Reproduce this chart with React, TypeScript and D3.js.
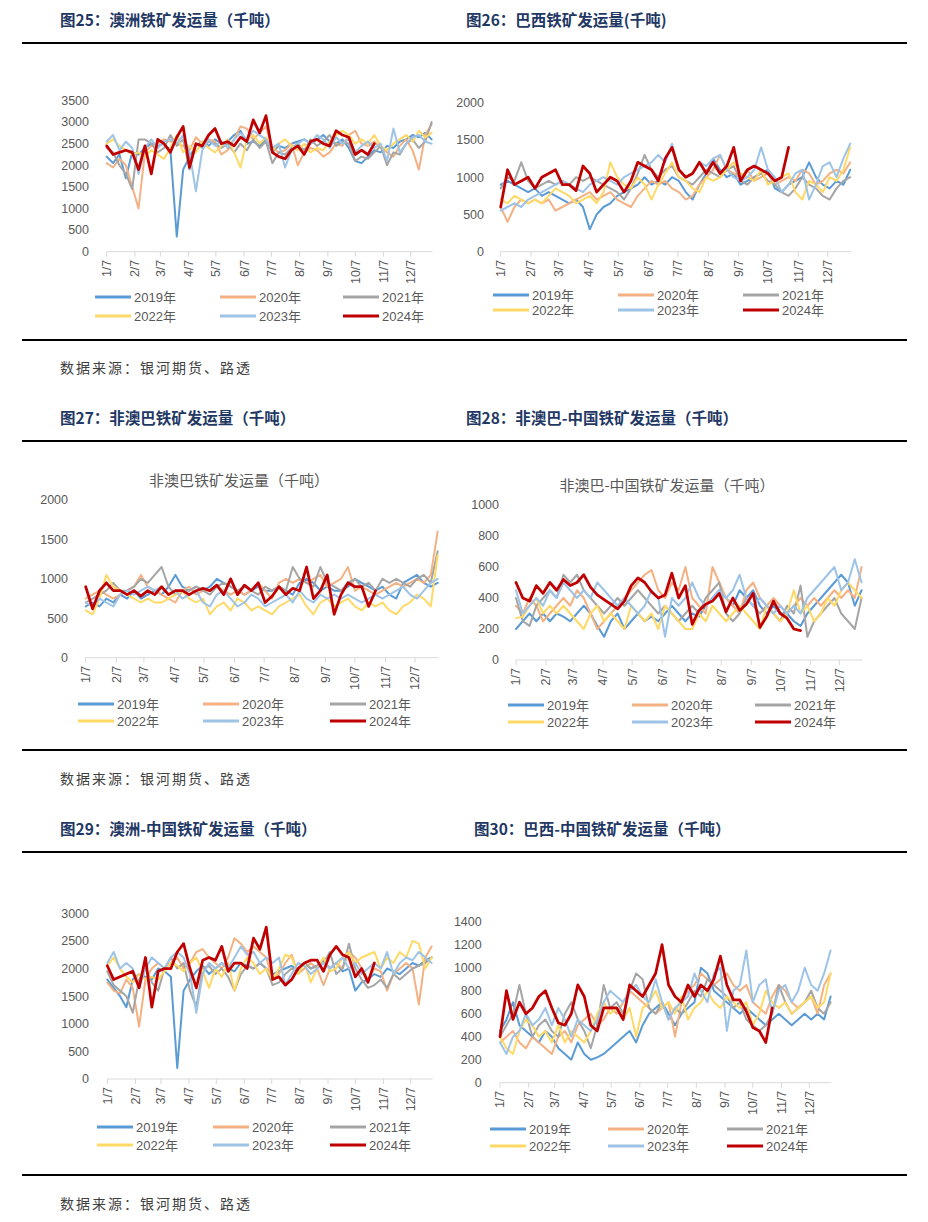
import React from 'react';
import * as d3 from 'd3';

const YEARS = ['2019年', '2020年', '2021年', '2022年', '2023年', '2024年'];
const COLORS = ['#5B9BD5', '#F4B183', '#A5A5A5', '#FFD966', '#9DC3E6', '#C00000'];
const MONTH_LABELS = ['1/7', '2/7', '3/7', '4/7', '5/7', '6/7', '7/7', '8/7', '9/7', '10/7', '11/7', '12/7'];

// 图25 澳洲铁矿发运量 (weekly points from 1/7)
const AU_2019 = [2200,2050,2250,1700,2300,2250,2400,2500,2450,2500,2350,350,1900,2200,2450,2550,2450,2600,2500,2550,2700,2800,2500,2550,2450,2600,2300,2450,2400,2500,2550,2600,2500,2600,2700,2550,2500,2600,2400,2100,2050,2200,2350,2300,2450,2400,2550,2600,2700,2650,2750,2600];
const AU_2020 = [2050,1950,2150,2000,1500,1000,2300,2450,2500,2600,2550,2500,2450,2350,2650,2500,2600,2550,2250,2350,2600,2900,2850,2600,2750,2900,2400,2300,2350,2500,2000,2300,2400,2350,2200,2300,2500,2450,2700,2800,2500,2450,2550,2400,2300,2200,2450,2600,2350,1900,2700,2950];
const AU_2021 = [2400,2300,2000,1800,1450,2600,2600,2500,2300,2400,2700,2450,2600,1900,2500,2400,2550,2500,2400,2500,2300,2500,2350,2600,2400,2550,2050,2300,2250,2400,2500,2350,2600,2450,2550,2700,2450,2550,2500,2100,2200,2150,2300,2450,2000,2300,2250,2500,2600,2400,2550,3000];
const AU_2022 = [2500,2600,2450,2350,2250,2300,2200,2350,2250,2150,2400,2700,2300,2450,2300,2550,2400,2300,2450,2600,2300,1950,2600,2700,2500,2650,2350,2500,2600,2450,2350,2500,2300,2400,2350,2550,2700,2800,2700,2500,2600,2500,2700,2450,2350,2500,2600,2700,2550,2800,2650,2750];
const AU_2023 = [2550,2700,2350,2550,2400,1800,2400,2600,2400,2550,2600,2500,2700,2300,1400,2350,2600,2450,2550,2400,2600,2750,2600,2800,2700,2600,2400,2500,1950,2350,2500,2600,2500,2700,2600,2400,2650,2500,2600,2300,2450,2550,2400,2500,2100,2850,2300,2500,2650,2700,2550,2500];
const AU_2024 = [2450,2250,2300,2350,2300,1900,2450,1800,2600,2500,2300,2650,2900,1950,2500,2450,2700,2850,2500,2550,2450,2650,2550,3050,2750,3150,2300,2200,2150,2350,2450,2250,2550,2600,2500,2450,2800,2700,2650,2250,2350,2250,2500];

// 图26 巴西铁矿发运量
const BR_2019 = [900,950,900,850,800,850,750,800,750,700,650,700,600,300,500,600,650,750,800,850,900,1000,900,950,900,1000,950,800,700,900,1050,1250,1100,1000,1050,900,950,1000,1050,1100,850,800,900,950,1000,1200,1000,900,850,950,900,1100];
const BR_2020 = [600,400,600,700,650,700,650,700,550,600,650,700,750,800,700,750,800,700,650,600,750,850,950,900,950,850,800,700,750,900,1000,1100,1300,1100,1050,1000,1100,950,1000,1050,900,950,1000,950,1100,1050,900,950,1050,1100,1050,1200];
const BR_2021 = [850,1000,950,1200,950,850,900,950,900,950,900,1000,950,1000,950,900,850,800,700,850,1050,1300,1100,1000,1100,1150,1000,950,900,1000,1100,1050,1000,1100,1150,950,900,1000,1050,950,900,800,750,850,1000,900,850,750,700,850,950,1000];
const BR_2022 = [700,650,750,700,650,700,650,750,850,800,750,650,700,750,650,800,1200,1000,900,850,1000,900,700,900,1050,1200,1000,950,850,800,1000,950,1000,1100,1200,1050,1000,950,1100,900,950,1000,1050,800,700,950,900,800,1000,950,1100,1400];
const BR_2023 = [550,600,650,600,700,750,800,850,900,950,900,850,800,900,950,1000,950,900,1000,1050,1100,1150,1200,1300,1200,1450,1100,1000,1050,1200,1150,1250,1300,1100,1000,950,1000,1100,1400,1100,1000,800,900,1050,1100,700,900,1150,1200,1000,1250,1450];
const BR_2024 = [600,1100,900,950,1000,850,1000,1050,1100,900,900,820,1150,1050,800,900,1000,950,800,950,1200,1150,1100,950,1250,1400,1100,1000,1050,1200,1050,1200,1050,1150,1400,950,1100,1150,1100,1050,950,1000,1400];

// 图27 非澳巴铁矿发运量
const NAB_2019 = [650,700,650,750,700,800,750,850,750,800,850,800,900,1050,900,850,900,850,900,1000,950,900,850,800,850,900,850,850,900,850,800,950,1000,950,850,900,850,850,900,1000,950,900,850,900,800,750,950,1000,1050,950,900,950];
const NAB_2020 = [750,800,850,800,750,800,850,900,1050,900,850,800,750,700,850,900,800,850,850,900,850,800,850,800,850,950,850,750,950,1000,950,1000,950,1000,1050,900,950,1000,1150,850,900,850,800,850,900,950,900,950,1000,950,1050,1600];
const NAB_2021 = [700,750,800,850,950,850,850,900,1000,950,1050,1150,900,800,850,850,900,850,800,900,950,900,850,900,850,800,900,850,900,850,1150,1000,950,900,1150,950,900,850,950,1000,900,950,850,1000,950,1000,950,900,1000,1050,950,1350];
const NAB_2022 = [600,550,750,1050,900,850,800,750,700,750,700,700,750,800,850,750,700,750,550,650,700,600,750,700,600,650,600,550,650,700,750,800,650,550,700,750,650,700,750,650,600,700,650,700,600,550,650,700,800,750,650,1300];
const NAB_2023 = [700,650,750,700,650,800,850,800,850,900,850,900,800,850,750,800,850,700,650,800,850,750,650,700,800,750,650,700,750,800,700,850,750,700,800,750,800,750,800,750,700,750,800,750,800,850,900,800,750,850,950,1000];
const NAB_2024 = [900,620,850,950,850,850,800,850,780,850,800,900,800,850,850,800,850,880,850,920,800,1000,800,920,850,950,700,780,900,800,880,850,1150,750,850,1050,550,800,950,900,900,650,850];

// 图28 非澳巴-中国铁矿发运量
const NABC_2019 = [200,250,300,250,300,250,300,280,250,300,350,300,220,150,250,300,200,250,300,250,280,250,300,350,300,250,300,280,350,400,450,400,350,450,400,450,350,300,350,300,300,250,220,300,350,400,450,500,550,500,350,450];
const NABC_2020 = [350,300,400,350,250,300,350,400,350,450,400,300,200,250,300,350,400,450,500,550,580,450,400,500,450,600,400,350,300,600,500,400,350,300,450,500,400,350,400,350,300,350,400,350,400,350,400,450,400,450,400,600];
const NABC_2021 = [400,250,220,350,400,450,400,550,500,550,450,400,350,300,350,400,350,400,450,400,350,300,350,300,250,300,350,300,400,450,500,300,250,300,400,350,300,350,300,250,350,300,480,150,250,300,350,400,300,250,200,400];
const NABC_2022 = [270,280,350,400,300,350,300,350,300,250,200,300,350,250,300,250,200,350,300,250,300,200,350,300,250,200,200,300,250,350,300,250,300,350,300,250,200,350,300,250,300,450,300,350,250,300,400,350,450,500,450,400];
const NABC_2023 = [450,300,350,400,350,450,400,500,450,400,450,400,500,450,400,350,400,350,300,350,450,400,150,400,350,400,500,400,350,400,450,400,450,550,400,350,400,350,300,350,300,350,300,400,450,500,550,600,450,500,650,500];
const NABC_2024 = [500,400,380,480,430,500,450,520,480,500,550,470,420,390,360,330,380,480,530,500,440,400,420,560,400,480,230,320,360,380,430,310,400,320,360,430,210,280,380,300,270,200,190];

// 图29 澳洲-中国铁矿发运量
const AUC_2019 = [1800,1650,1500,1300,1800,1900,1850,1800,2000,1950,1850,200,1600,1800,1950,2050,1900,2000,2100,2000,1950,2100,2050,2000,2100,2000,1900,1950,2000,2050,1950,2100,2000,2050,2150,2000,2100,1950,2000,1600,1750,1800,1900,1850,2000,1950,1900,2000,2100,2050,2150,2200];
const AUC_2020 = [1750,1600,1550,1800,1650,950,1800,2000,2100,2000,2100,2200,2000,2100,2300,2350,2200,2100,2000,2200,2550,2450,2300,2400,2300,2200,1800,1900,2100,2250,1900,2000,2100,2000,1700,2000,2100,2000,2300,2200,2000,1800,2000,1950,1600,1900,2000,2100,2000,1350,2200,2400];
const AUC_2021 = [1950,1700,1600,1500,1200,1800,2000,1750,1600,2000,2200,2000,2100,1600,1300,2000,2050,1900,2000,1850,1600,1900,2050,2000,2100,2000,1700,1750,1900,2000,1950,2100,2000,2050,2100,2300,1900,2000,2450,2000,1800,1650,1700,1800,1650,1900,1800,1900,2000,2050,2100,2200];
const AUC_2022 = [2050,2200,2000,1850,1750,1900,1800,1850,1800,1950,2100,2050,1950,2100,2200,1950,1650,2000,1850,2100,1600,2000,2200,2100,1900,2000,1800,2000,2250,2200,1900,2100,1750,2000,2200,1950,2000,2200,2300,2100,2200,2250,2300,2000,2200,2100,2300,2200,2500,2450,2000,2200];
const AUC_2023 = [2100,2300,2000,2100,2000,1650,2000,2200,2100,2000,2200,2300,2200,1900,1200,1900,2100,2000,2100,2000,2200,2400,2250,2300,2100,2200,2100,2200,1700,1900,2100,2050,1900,2000,2100,2000,2100,2200,2000,2100,1900,2000,2100,2000,2300,1900,2100,2200,2150,2300,2200,2100];
const AUC_2024 = [2050,1800,1850,1900,1950,1650,2200,1300,1950,2000,2000,2300,2450,2000,1650,2150,2200,2150,2400,1950,2100,2100,2000,2550,2350,2750,1800,1850,1700,1800,2000,2100,2150,2150,1950,2250,2400,2250,2200,1850,2000,1750,2100];

// 图30 巴西-中国铁矿发运量
const BRC_2019 = [450,550,700,500,450,400,350,450,400,300,250,200,350,250,200,220,250,300,350,400,450,350,500,600,650,700,600,500,600,650,700,1000,950,800,750,700,650,600,650,600,550,500,550,600,550,500,550,600,550,600,550,750];
const BRC_2020 = [350,400,450,350,300,400,350,300,250,400,450,350,500,550,600,500,550,650,600,700,800,750,700,650,600,650,700,400,700,800,850,950,900,850,900,950,850,800,850,700,650,600,750,850,800,700,650,700,750,600,850,950];
const BRC_2021 = [400,500,600,850,600,400,500,550,450,400,600,700,550,450,300,500,850,650,700,600,800,950,900,650,600,700,550,650,600,700,800,750,900,850,800,750,650,700,550,500,450,500,600,850,700,600,650,700,800,650,600,700];
const BRC_2022 = [400,300,250,450,550,500,400,450,350,500,350,450,400,350,450,600,700,600,650,550,650,400,650,700,800,650,700,600,750,550,650,700,800,700,650,750,700,650,700,500,600,800,700,650,700,600,650,700,750,650,700,950];
const BRC_2023 = [350,250,400,450,600,500,550,650,500,650,550,400,550,500,450,550,700,800,750,700,800,850,750,700,900,700,550,650,700,750,950,800,700,950,1000,450,800,850,1150,700,850,900,600,800,850,700,800,1000,850,800,950,1150];
const BRC_2024 = [400,800,550,700,600,650,750,800,650,520,500,600,850,750,500,450,650,650,650,550,850,800,750,850,950,1200,850,750,700,850,750,850,800,900,1100,850,720,720,620,480,450,350,650];

const BASE = new Date(2021, 0, 7);
const DEC7 = new Date(2021, 11, 7);
const END = new Date(2021, 11, 31);
const NUM_FONT = "'Liberation Sans', 'Noto Sans CJK SC', sans-serif";
const CJK_FONT = "'Noto Sans CJK SC', sans-serif";

type Spec = {
  series: number[][];
  yMax: number;
  yStep: number;
  x0: number;
  xDec: number;
  yZero: number;
  yTop: number;
  labelRight: number;
  legendX: number[];
  legendY: number[];
  title?: string;
  titleX?: number;
  titleY?: number;
};

function Panel({ s }: { s: Spec }) {
  const x = d3.scaleTime().domain([BASE, DEC7]).range([s.x0, s.xDec]);
  const y = d3.scaleLinear().domain([0, s.yMax]).range([s.yZero, s.yTop]);
  const xEnd = x(END);
  const line = d3
    .line<number>()
    .x((_, i) => x(d3.timeDay.offset(BASE, 7 * i)))
    .y((d) => y(d));
  const yTicks = d3.range(0, s.yMax + 1, s.yStep);
  const months = d3.range(12).map((m) => new Date(2021, m, 7));
  return (
    <g>
      {s.title && (
        <text x={s.titleX} y={s.titleY} textAnchor="middle" fontSize={15} fill="#595959" fontFamily={CJK_FONT}>
          {s.title}
        </text>
      )}
      {yTicks.map((t) => (
        <text key={t} x={s.labelRight} y={y(t)} dy="0.35em" textAnchor="end" fontSize={12.5} fill="#595959" fontFamily={NUM_FONT}>
          {t}
        </text>
      ))}
      <line x1={s.x0} x2={xEnd} y1={s.yZero} y2={s.yZero} stroke="#D9D9D9" strokeWidth={1} />
      {months.map((d, i) => (
        <g key={i}>
          <line x1={x(d)} x2={x(d)} y1={s.yZero} y2={s.yZero + 5} stroke="#D9D9D9" />
          <text
            transform={`translate(${x(d)},${s.yZero + 8}) rotate(-90)`}
            textAnchor="end"
            dy="0.35em"
            fontSize={12.5}
            fill="#595959"
            fontFamily={NUM_FONT}
          >
            {MONTH_LABELS[i]}
          </text>
        </g>
      ))}
      {s.series.map((arr, k) => (
        <path
          key={k}
          d={line(arr) || ''}
          fill="none"
          stroke={COLORS[k]}
          strokeWidth={k === 5 ? 2.75 : 2}
          strokeLinejoin="round"
          strokeLinecap="round"
        />
      ))}
      {YEARS.map((label, k) => {
        const lx = s.legendX[k % 3];
        const ly = s.legendY[Math.floor(k / 3)];
        return (
          <g key={label}>
            <line x1={lx} x2={lx + 36} y1={ly} y2={ly} stroke={COLORS[k]} strokeWidth={3} />
            <text x={lx + 39} y={ly} dy="0.36em" fontSize={13} fill="#595959" fontFamily={NUM_FONT}>
              {label}
            </text>
          </g>
        );
      })}
    </g>
  );
}

const PANELS: Spec[] = [
  {
    series: [AU_2019, AU_2020, AU_2021, AU_2022, AU_2023, AU_2024],
    yMax: 3500, yStep: 500, x0: 106.7, xDec: 410.7, yZero: 251.7, yTop: 100.5, labelRight: 89,
    legendX: [95, 220, 343], legendY: [297, 316],
  },
  {
    series: [BR_2019, BR_2020, BR_2021, BR_2022, BR_2023, BR_2024],
    yMax: 2000, yStep: 500, x0: 500.7, xDec: 827.7, yZero: 251.7, yTop: 102.7, labelRight: 484,
    legendX: [493, 618, 743], legendY: [295, 310],
  },
  {
    series: [NAB_2019, NAB_2020, NAB_2021, NAB_2022, NAB_2023, NAB_2024],
    yMax: 2000, yStep: 500, x0: 85.7, xDec: 415, yZero: 657.7, yTop: 500, labelRight: 68,
    legendX: [78, 203, 330], legendY: [704, 721],
    title: '非澳巴铁矿发运量（千吨）', titleX: 239, titleY: 486,
  },
  {
    series: [NABC_2019, NABC_2020, NABC_2021, NABC_2022, NABC_2023, NABC_2024],
    yMax: 1000, yStep: 200, x0: 516, xDec: 839.3, yZero: 660, yTop: 505, labelRight: 499,
    legendX: [508, 632, 755], legendY: [705, 722],
    title: '非澳巴-中国铁矿发运量（千吨）', titleX: 667, titleY: 491,
  },
  {
    series: [AUC_2019, AUC_2020, AUC_2021, AUC_2022, AUC_2023, AUC_2024],
    yMax: 3000, yStep: 500, x0: 107.3, xDec: 410.7, yZero: 1079, yTop: 913.3, labelRight: 89,
    legendX: [97, 213, 330], legendY: [1127, 1145],
  },
  {
    series: [BRC_2019, BRC_2020, BRC_2021, BRC_2022, BRC_2023, BRC_2024],
    yMax: 1400, yStep: 200, x0: 500, xDec: 809.3, yZero: 1082.7, yTop: 921.7, labelRight: 481.7,
    legendX: [490, 608, 727], legendY: [1129, 1146],
  },
];

const HEADERS = [
  { text: '图25：澳洲铁矿发运量（千吨）', x: 60, y: 26 },
  { text: '图26：巴西铁矿发运量(千吨)', x: 466, y: 26 },
  { text: '图27：非澳巴铁矿发运量（千吨）', x: 60, y: 424 },
  { text: '图28：非澳巴-中国铁矿发运量（千吨）', x: 466, y: 424 },
  { text: '图29：澳洲-中国铁矿发运量（千吨）', x: 60, y: 835 },
  { text: '图30：巴西-中国铁矿发运量（千吨）', x: 474, y: 835 },
];
const RULES = [43, 340, 441, 750, 852, 1175];
const SOURCES = [368, 779, 1204];
const SOURCE_TEXT = '数据来源：银河期货、路透';

export default function App() {
  return (
    <svg width={928} height={1222} style={{ position: 'absolute', left: 0, top: 0, background: '#fff' }}>
      <rect x={0} y={0} width={928} height={1222} fill="#fff" />
      {HEADERS.map((h) => (
        <text key={h.text} x={h.x} y={h.y} fontSize={15.5} fontWeight="bold" fill="#1F3864" fontFamily={CJK_FONT}>
          {h.text}
        </text>
      ))}
      {RULES.map((r) => (
        <line key={r} x1={22} x2={907} y1={r} y2={r} stroke="#000" strokeWidth={2} />
      ))}
      {SOURCES.map((sy) => (
        <text key={sy} x={60} y={sy} dy="0.36em" fontSize={14} letterSpacing={2} fill="#404040" fontFamily={CJK_FONT}>
          {SOURCE_TEXT}
        </text>
      ))}
      {PANELS.map((p, i) => (
        <Panel key={i} s={p} />
      ))}
    </svg>
  );
}
